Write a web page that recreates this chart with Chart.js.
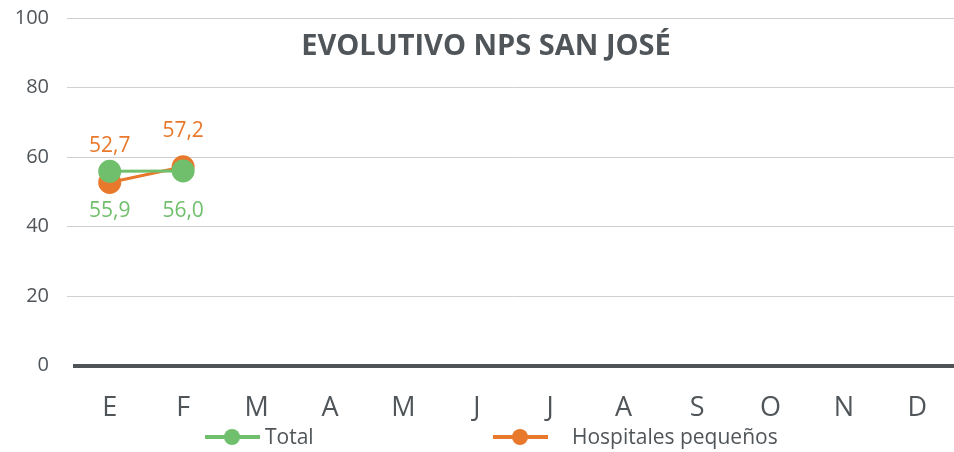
<!DOCTYPE html>
<html>
<head>
<meta charset="utf-8">
<script src="https://cdn.jsdelivr.net/npm/chart.js@4"></script>
<style>
  html, body { margin: 0; padding: 0; background: #fff; overflow: hidden; }
  canvas { display: block; }
</style>
</head>
<body>
<canvas id="nps-chart" width="954" height="452"></canvas>
<script>
// meses (E..D) y valores NPS
const meses = ['E', 'F', 'M', 'A', 'M', 'J', 'J', 'A', 'S', 'O', 'N', 'D'];
const totalNps = [55.9, 56.0, null, null, null, null, null, null, null, null, null, null];
const hospitalesNps = [52.7, 57.2, null, null, null, null, null, null, null, null, null, null];
const yTicks = [0, 20, 40, 60, 80, 100];

const VERDE = '#70bf6c';
const NARANJA = '#e8792c';
const GRIS = '#505559';
const FUENTE = '"Open Sans", "Noto Sans", sans-serif';

// titulo dentro del area del grafico
const tituloPlugin = {
    id: 'titulo',
    afterDraw(chart) {
        const { ctx } = chart;
        ctx.save();
        ctx.font = 'bold 29px ' + FUENTE;
        ctx.fillStyle = GRIS;
        ctx.textAlign = 'center';
        ctx.textBaseline = 'middle';
        ctx.fillText('EVOLUTIVO NPS SAN JOSÉ', 486, 47);
        ctx.restore();
    }
};

// etiquetas de valor: naranja arriba, verde abajo
const etiquetasPlugin = {
    id: 'etiquetas',
    afterDatasetsDraw(chart) {
        const { ctx } = chart;
        ctx.save();
        ctx.font = '21px ' + FUENTE;
        ctx.textAlign = 'center';
        ctx.textBaseline = 'middle';
        chart.data.datasets.forEach((ds, i) => {
            const meta = chart.getDatasetMeta(i);
            meta.data.forEach((pt, j) => {
                const v = ds.data[j];
                if (v == null) return;
                const dy = ds.etiquetaArriba ? -36 : 40;
                ctx.fillStyle = ds.borderColor;
                ctx.fillText(v.toFixed(1).replace('.', ','), pt.x, pt.y + dy);
            });
        });
        ctx.restore();
    }
};

// leyenda con linea y circulo
const leyendaPlugin = {
    id: 'leyenda',
    afterDraw(chart) {
        const { ctx } = chart;
        const items = [
            { ds: chart.data.datasets[0], x: 205, tx: 265 },
            { ds: chart.data.datasets[1], x: 493, tx: 572 }
        ];
        const y = 437;
        ctx.save();
        ctx.font = '21px ' + FUENTE;
        ctx.textBaseline = 'middle';
        items.forEach(it => {
            ctx.strokeStyle = it.ds.borderColor;
            ctx.lineWidth = 4;
            ctx.beginPath();
            ctx.moveTo(it.x, y);
            ctx.lineTo(it.x + 55, y);
            ctx.stroke();
            ctx.fillStyle = it.ds.borderColor;
            ctx.beginPath();
            ctx.arc(it.x + 27, y, 8, 0, Math.PI * 2);
            ctx.fill();
            ctx.fillStyle = GRIS;
            ctx.fillText(it.ds.label, it.tx, y + 1);
        });
        ctx.restore();
    }
};

new Chart(document.getElementById('nps-chart'), {
    type: 'line',
    data: {
        labels: meses,
        datasets: [
            {
                label: 'Total',
                data: totalNps,
                borderColor: VERDE,
                backgroundColor: VERDE,
                borderWidth: 3,
                pointRadius: 10,
                pointHoverRadius: 10,
                etiquetaArriba: false
            },
            {
                label: 'Hospitales pequeños',
                data: hospitalesNps,
                borderColor: NARANJA,
                backgroundColor: NARANJA,
                borderWidth: 3,
                pointRadius: 10,
                pointHoverRadius: 10,
                etiquetaArriba: true,
                order: 1
            }
        ]
    },
    options: {
        responsive: false,
        animation: false,
        layout: { autoPadding: false, padding: { top: 18, right: 0, bottom: 8, left: 0 } },
        plugins: {
            legend: { display: false },
            tooltip: { enabled: false },
            title: { display: false }
        },
        scales: {
            x: {
                offset: true,
                grid: { display: false },
                border: { display: false },
                afterFit: s => { s.paddingLeft = 0; s.paddingRight = 0; },
                ticks: {
                    color: GRIS,
                    font: { size: 27, family: FUENTE },
                    padding: 19,
                    maxRotation: 0
                }
            },
            y: {
                min: 0,
                max: 100,
                afterBuildTicks: s => { s.ticks = yTicks.map(v => ({ value: v })); },
                afterFit: s => { s.width = 73; s.paddingTop = 0; s.paddingBottom = 0; },
                border: { display: false },
                grid: {
                    color: c => c.tick && c.tick.value === 0 ? '#4d5357' : '#d0d0d0',
                    lineWidth: c => c.tick && c.tick.value === 0 ? 4 : 1,
                    tickColor: c => c.tick && c.tick.value === 0 ? 'rgba(0,0,0,0)' : '#d0d0d0',
                    tickLength: 6
                },
                ticks: {
                    color: GRIS,
                    font: { size: 20, family: FUENTE },
                    padding: 18
                }
            }
        }
    },
    plugins: [tituloPlugin, etiquetasPlugin, leyendaPlugin]
});
</script>
</body>
</html>
